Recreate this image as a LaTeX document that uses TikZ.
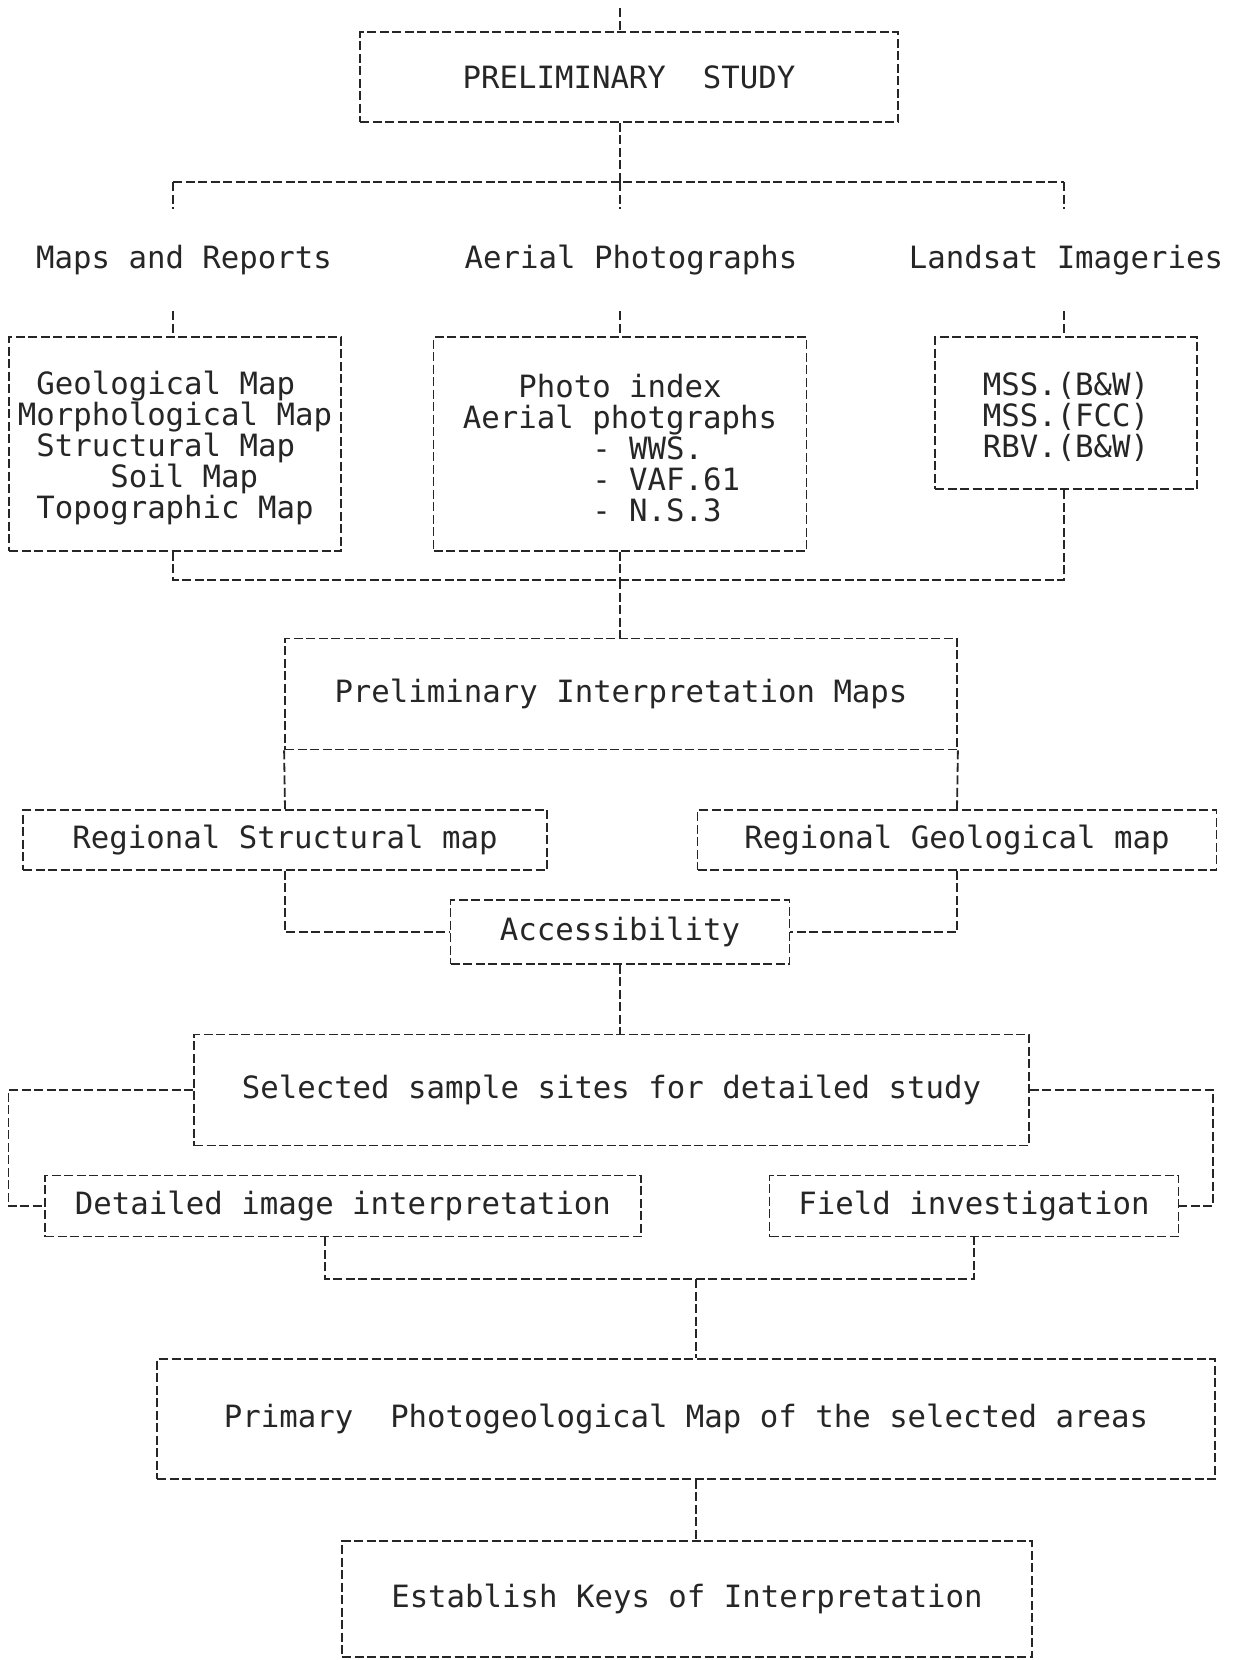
\documentclass[tikz,border=0pt]{standalone}
\usepackage{fontspec}
\setmonofont{DejaVu Sans Mono}
\usetikzlibrary{calc}
\tikzset{
  ln/.style={line width=1.8pt, dash pattern=on 9pt off 3.5pt, draw=black!85},
  box/.style={ln, rectangle, inner sep=0pt, text=black!85,
    font=\ttfamily\fontsize{30.7}{31}\selectfont},
  lbl/.style={inner sep=0pt, text=black!85,
    font=\ttfamily\fontsize{30.7}{31}\selectfont},
}
\begin{document}
\begin{tikzpicture}[x=1pt,y=-1pt]
\useasboundingbox[fill=white] (0,0) rectangle (1238,1660);

% row 1
\coordinate (top) at (620,8);
\node[box, minimum width=538pt, minimum height=90pt] (ps) at (629,77) {PRELIMINARY\ \ STUDY};
\draw[ln] (top) -- (top |- ps.north);
\coordinate (j1) at (620,182);
\coordinate (hL) at (173,182);
\coordinate (hR) at (1064,182);
\draw[ln] (ps.south -| j1) -- (j1);
\draw[ln] (hL) -- (hR);

% row 2 labels
\node[lbl, minimum height=102pt] (maps) at (184,260) {Maps and Reports};
\node[lbl, minimum height=102pt] (aer) at (631,260) {Aerial Photographs};
\node[lbl, minimum height=102pt] (land) at (1066,260) {Landsat Imageries};
\draw[ln] (hL) -- (hL |- maps.north);
\draw[ln] (j1) -- (j1 |- aer.north);
\draw[ln] (hR) -- (hR |- land.north);

% row 3 boxes
\node[box, align=left, minimum width=332pt, minimum height=214pt] (ba) at (175,444)
  {\rule{0pt}{31pt}\phantom{M}Geological Map\\Morphological Map\\\phantom{M}Structural Map\\\phantom{MMMMM}Soil Map\\\phantom{M}Topographic Map};
\node[box, align=left, minimum width=373pt, minimum height=214pt] (bb) at (620,444)
  {\rule{0pt}{31pt}\phantom{MMM}Photo index\\Aerial photgraphs\\\phantom{MMMMMMM}- WWS.\\\phantom{MMMMMMM}- VAF.61\\\phantom{MMMMMMM}- N.S.3};
\node[box, align=center, minimum width=262pt, minimum height=152pt] (bc) at (1066,413)
  {\rule{0pt}{31pt}MSS.(B\&W)\\MSS.(FCC)\\RBV.(B\&W)};
\draw[ln] (maps.south -| hL) -- (hL |- ba.north);
\draw[ln] (aer.south -| j1) -- (j1 |- bb.north);
\draw[ln] (land.south -| hR) -- (hR |- bc.north);

% row 4
\coordinate (j2L) at (173,580);
\coordinate (j2R) at (1064,580);
\coordinate (j2) at (620,580);
\draw[ln] (ba.south -| j2L) -- (j2L) -- (j2R) -- (bc.south -| j2R);
\draw[ln] (bb.south -| j2) -- (j2);
\node[box, minimum width=672pt, minimum height=111pt] (pim) at (621,694) {Preliminary Interpretation Maps};
\draw[ln] (j2) -- (j2 |- pim.north);

% row 5
\node[box, minimum width=524pt, minimum height=60pt] (rsm) at (285,840) {Regional Structural map};
\node[box, minimum width=519pt, minimum height=60pt] (rgm) at (957,840) {Regional Geological map};
\draw[ln] (pim.south west) -- (rsm.north);
\draw[ln] (pim.south east) -- (rgm.north);
\node[box, minimum width=339pt, minimum height=64pt] (acc) at (620,932) {Accessibility};
\draw[ln] (rsm.south) |- (acc.west);
\draw[ln] (rgm.south) |- (acc.east);

% row 6
\node[box, minimum width=835pt, minimum height=111pt] (sss) at (611.5,1090) {Selected sample sites for detailed study};
\draw[ln] (acc.south) -- (acc.south |- sss.north);
\node[box, minimum width=596pt, minimum height=61pt] (dii) at (343,1206) {Detailed image interpretation};
\node[box, minimum width=409pt, minimum height=61pt] (fi) at (974,1206) {Field investigation};
\coordinate (lx) at (8.5,1085);
\coordinate (rx) at (1213,1085);
\draw[ln] (sss.west) -- (sss.west -| lx) |- (dii.west);
\draw[ln] (sss.east) -- (sss.east -| rx) |- (fi.east);
\coordinate (j6L) at (325,1279);
\coordinate (j6R) at (974,1279);
\coordinate (j6) at (696,1279);
\draw[ln] (dii.south -| j6L) -- (j6L) -- (j6R) -- (fi.south);

% row 7
\node[box, minimum width=1058pt, minimum height=120pt] (ppm) at (686,1419) {Primary\ \ Photogeological Map of the selected areas};
\draw[ln] (j6) -- (j6 |- ppm.north);
\node[box, minimum width=690pt, minimum height=116pt] (ek) at (687,1599) {Establish Keys of Interpretation};
\draw[ln] (ppm.south -| j6) -- (j6 |- ek.north);
\end{tikzpicture}
\end{document}
